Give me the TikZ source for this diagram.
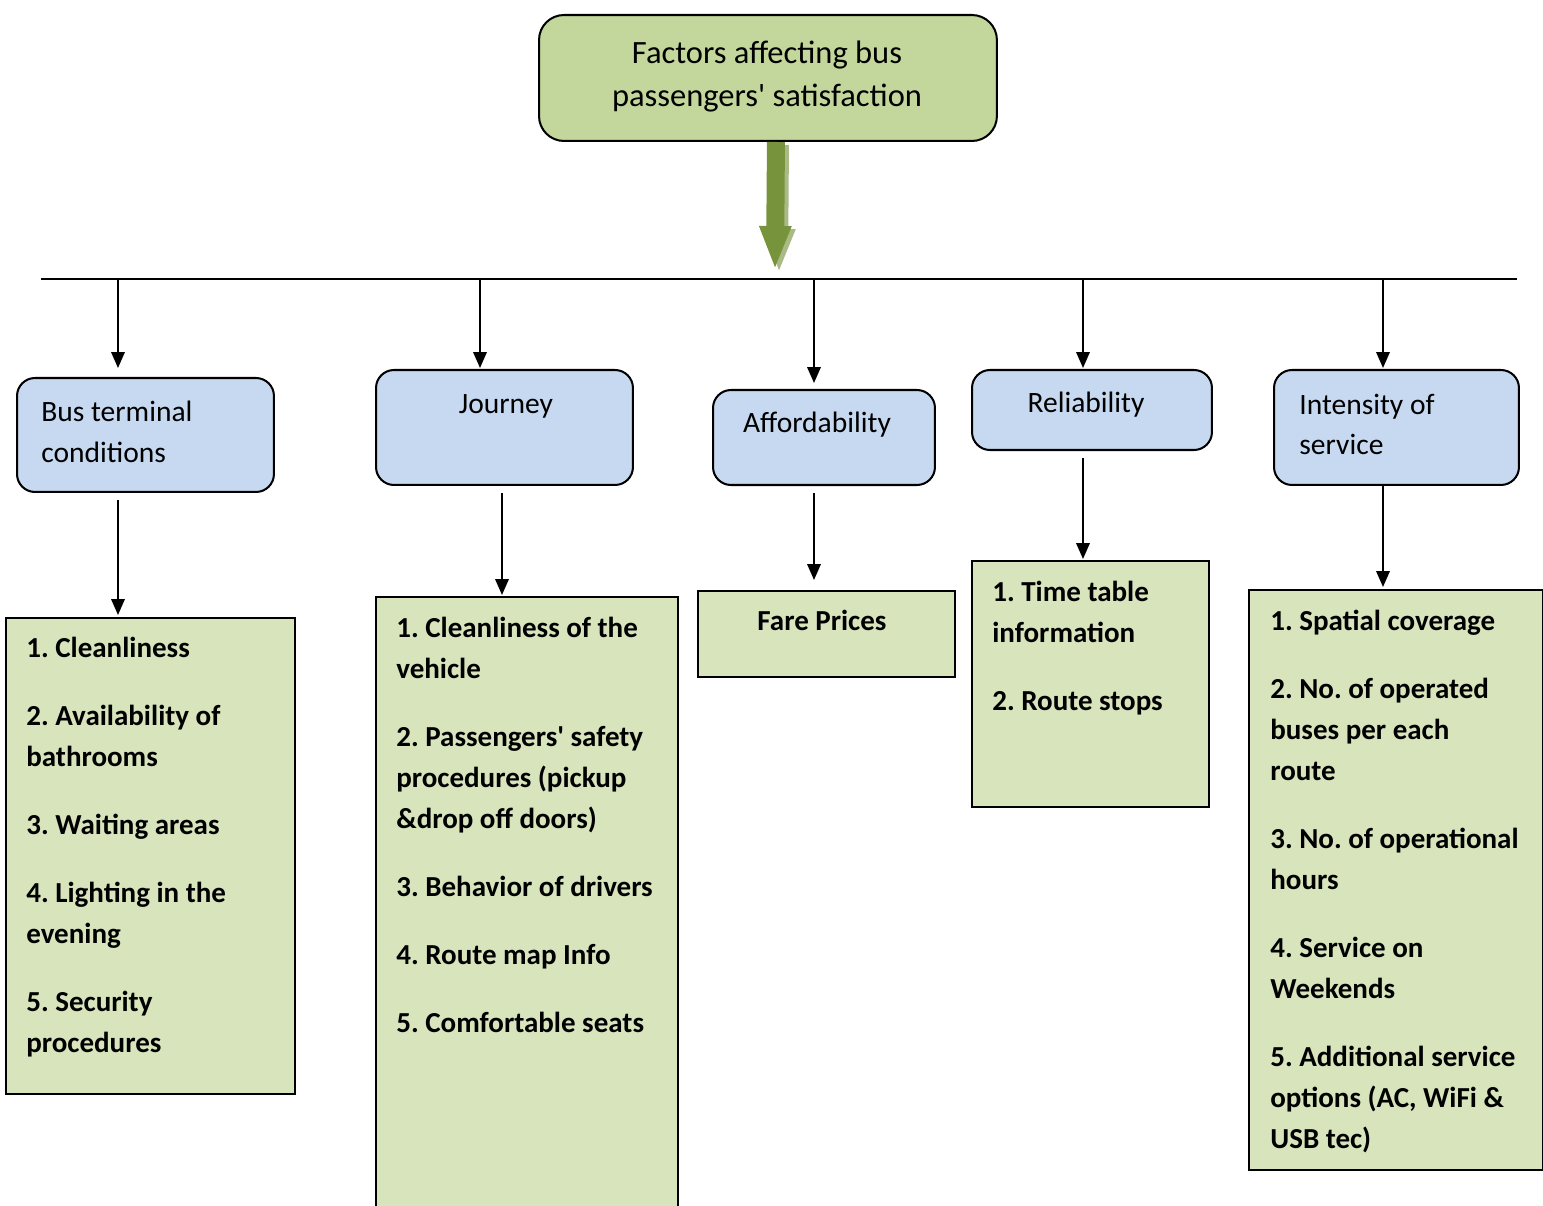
\documentclass[tikz,border=0pt]{standalone}
\usepackage{fontspec}
\setmainfont{Carlito}
\usetikzlibrary{arrows.meta}
\definecolor{topgreen}{HTML}{C3D69B}
\definecolor{catblue}{HTML}{C6D9F0}
\definecolor{listgreen}{HTML}{D7E4BC}
\definecolor{arrowgreen}{HTML}{77933C}
\definecolor{shadowgreen}{HTML}{A9BB85}
\frenchspacing
\begin{document}
\begin{tikzpicture}[x=0.02cm, y=-0.02cm,
    box/.style={draw, line width=1.15pt, anchor=north west, inner sep=0pt},
    cat/.style={box, fill=catblue, rounded corners=0.36cm},
    lst/.style={box, fill=listgreen},
    cattxt/.style={inner sep=0pt, align=left, font=\fontsize{16.8}{23.3}\selectfont},
    lsttxt/.style={inner sep=0pt, anchor=base west, align=left, font=\bfseries\fontsize{16.5}{23.3}\selectfont},
    arr/.style={line width=1.15pt, -{Triangle[length=0.32cm, width=0.27cm]}},
    bigarr/.style={line width=0.36cm, -{Triangle[length=0.88cm, width=0.58cm]}}]
  \useasboundingbox (0,0) rectangle (1543,1206);

  % top box and the big arrow
  \node[box, fill=topgreen, rounded corners=0.5cm, minimum width=9.16cm, minimum height=2.52cm] (top) at (538,14) {};
  \node[anchor=base, align=center, inner sep=0pt, font=\fontsize{18.5}{24.5}\selectfont] (toptxt) at (767,107)
    {Factors affecting bus\\passengers\textquotesingle{} satisfaction};
  \coordinate (tip) at (775,270);
  \coordinate (tipsh) at (779,273);
  \draw[bigarr, shadowgreen] ([xshift=0.24cm, yshift=-0.06cm]top.south) -- (tipsh);
  \draw[bigarr, arrowgreen] ([xshift=0.16cm]top.south) -- (tip);

  % bus line
  \coordinate (busl) at (41,279);
  \coordinate (busr) at (1517,279);
  \draw[line width=1.15pt] (busl) -- (busr);

  % categories
  \node[cat, minimum width=5.14cm, minimum height=2.28cm] (c1) at (16,377) {};
  \node[cat, minimum width=5.14cm, minimum height=2.30cm] (c2) at (375,369) {};
  \node[cat, minimum width=4.44cm, minimum height=1.90cm] (c3) at (712,389) {};
  \node[cat, minimum width=4.80cm, minimum height=1.60cm] (c4) at (971,369) {};
  \node[cat, minimum width=4.90cm, minimum height=2.30cm] (c5) at (1273,369) {};
  \node[cattxt, anchor=base west] (c1txt) at (41,462) {Bus terminal\\conditions};
  \node[cattxt, anchor=base] (c2txt) at (506,414) {Journey};
  \node[cattxt, anchor=base] (c3txt) at (817,433) {Affordability};
  \node[cattxt, anchor=base] (c4txt) at (1086,413) {Reliability};
  \node[cattxt, anchor=base west] (c5txt) at (1299,455) {Intensity of\\service};

  % lists (anchored on the baseline of the last line)
  \node[lst, minimum width=5.78cm, minimum height=9.52cm] (l1) at (5,617) {};
  \node[lst, minimum width=6.04cm, minimum height=12.38cm] (l2) at (375,596) {};
  \node[lst, minimum width=5.14cm, minimum height=1.72cm] (l3) at (697,590) {};
  \node[lst, minimum width=4.74cm, minimum height=4.92cm] (l4) at (971,560) {};
  \node[lst, minimum width=5.88cm, minimum height=11.60cm] (l5) at (1248,589) {};
  \node[lsttxt] (l1txt) at (26,1052) {1. Cleanliness\\[15.4pt]
    2. Availability of\\bathrooms\\[15.4pt]
    3. Waiting areas\\[15.4pt]
    4. Lighting in the\\evening\\[15.4pt]
    5. Security\\procedures};
  \node[lsttxt] (l2txt) at (396,1032) {1. Cleanliness of the\\vehicle\\[15.4pt]
    2. Passengers\textquotesingle{} safety\\procedures (pickup\\\&drop off doors)\\[15.4pt]
    3. Behavior of drivers\\[15.4pt]
    4. Route map Info\\[15.4pt]
    5. Comfortable seats};
  \node[lsttxt, anchor=base] (l3txt) at (822,630) {Fare Prices};
  \node[lsttxt] (l4txt) at (992,710) {1. Time table\\information\\[15.4pt]
    2. Route stops};
  \node[lsttxt] (l5txt) at (1270,1148) {1. Spatial coverage\\[15.4pt]
    2. No. of operated\\buses per each\\route\\[15.4pt]
    3. No. of operational\\hours\\[15.4pt]
    4. Service on\\Weekends\\[15.4pt]
    5. Additional service\\options (AC, WiFi \&\\USB tec)};

  % connectors
  \foreach \n/\x/\ga in {1/118/0.18, 2/480/0.02, 3/814/0.12, 4/1083/0.02, 5/1383/0.02} {
    \coordinate (t\n) at (\x,279);
    \draw[arr, shorten >=\ga cm] (t\n) -- (t\n |- c\n.north);
  }
  \draw[arr, shorten <=0.14cm, shorten >=0.04cm] (t1 |- c1.south) -- (t1 |- l1.north);
  \draw[arr, shorten <=0.14cm, shorten >=0.02cm] ([xshift=0.44cm]t2 |- c2.south) -- ([xshift=0.44cm]t2 |- l2.north);
  \draw[arr, shorten <=0.14cm, shorten >=0.2cm] (t3 |- c3.south) -- (t3 |- l3.north);
  \draw[arr, shorten <=0.14cm, shorten >=0.02cm] (t4 |- c4.south) -- (t4 |- l4.north);
  \draw[arr, shorten >=0.04cm] (t5 |- c5.south) -- (t5 |- l5.north);
\end{tikzpicture}
\end{document}
